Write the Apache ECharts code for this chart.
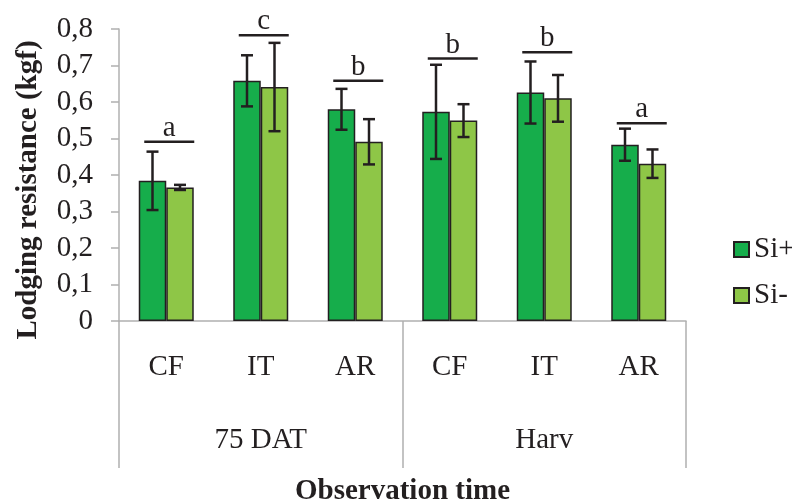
<!DOCTYPE html>
<html>
<head>
<meta charset="utf-8">
<script src="https://cdn.jsdelivr.net/npm/echarts@6/dist/echarts.min.js"></script>
<style>
  html, body { margin: 0; padding: 0; background: #fff; }
  #chart { width: 792px; height: 504px; }
</style>
</head>
<body>
<div id="chart"></div>
<script>
// Lodging resistance by treatment and observation time
const treatments = ['CF', 'IT', 'AR', 'CF', 'IT', 'AR'];
const periods = ['75 DAT', 'Harv'];
const siPlus = [0.384, 0.658, 0.580, 0.573, 0.626, 0.483];
const siMinus = [0.366, 0.641, 0.491, 0.549, 0.610, 0.431];
const siPlusErr = [0.080, 0.070, 0.056, 0.129, 0.085, 0.044];
const siMinusErr = [0.007, 0.121, 0.062, 0.045, 0.064, 0.039];
const letters = ['a', 'c', 'b', 'b', 'b', 'a'];
const letterLevels = [0.491, 0.783, 0.658, 0.719, 0.736, 0.542];
const yTicks = [0, 0.1, 0.2, 0.3, 0.4, 0.5, 0.6, 0.7, 0.8];

const FONT = 'Liberation Serif';
const FS = 29;
const INK = '#231F20';
const AXIS_GRAY = '#B0B0B0';
const BAR_FRAC = 0.291;

const chart = echarts.init(document.getElementById('chart'), null, { renderer: 'canvas' });

// error bar drawn for one series; side = -1 (left bar) or +1 (right bar)
function errorBar(side) {
  return function (params, api) {
    const i = api.value(0);
    const v = api.value(1);
    const e = api.value(2);
    const band = api.size([1, 0])[0];
    const bw = band * BAR_FRAC;
    const x = api.coord([i, 0])[0] + side * bw / 2;
    const yt = api.coord([i, v + e])[1];
    const yb = api.coord([i, v - e])[1];
    const cap = 6;
    const style = { stroke: INK, lineWidth: 2.5 };
    return {
      type: 'group',
      children: [
        { type: 'line', shape: { x1: x, y1: yt, x2: x, y2: yb }, style: style },
        { type: 'line', shape: { x1: x - cap, y1: yt, x2: x + cap, y2: yt }, style: style },
        { type: 'line', shape: { x1: x - cap, y1: yb, x2: x + cap, y2: yb }, style: style }
      ]
    };
  };
}

// significance letter over a line spanning both bars
function letterMark(params, api) {
  const i = api.value(0);
  const lvl = api.value(1);
  const p = api.coord([i, lvl]);
  const cx = p[0] + 3;
  const half = 25;
  return {
    type: 'group',
    children: [
      { type: 'line', shape: { x1: cx - half, y1: p[1], x2: cx + half, y2: p[1] },
        style: { stroke: INK, lineWidth: 2.5 } },
      { type: 'text', x: cx, y: p[1] + 1,
        style: { text: letters[params.dataIndex], font: FS + 'px ' + FONT, fill: INK,
                 align: 'center', verticalAlign: 'bottom' } }
    ]
  };
}

const option = {
  animation: false,
  backgroundColor: '#ffffff',
  textStyle: { fontFamily: FONT, color: INK },
  grid: { left: 119, right: 106, top: 29, bottom: 183, containLabel: false, outerBoundsMode: 'none' },
  legend: {
    data: ['Si+', 'Si-'],
    orient: 'vertical',
    left: 728,
    top: 230,
    icon: 'rect',
    itemWidth: 15,
    itemHeight: 15,
    itemGap: 17,
    textStyle: { fontFamily: FONT, fontSize: FS, color: INK }
  },
  xAxis: [
    {
      type: 'category',
      data: treatments,
      position: 'bottom',
      axisLine: { show: true, lineStyle: { color: AXIS_GRAY, width: 1.5 } },
      axisTick: { show: false },
      axisLabel: { margin: 32, fontFamily: FONT, fontSize: FS, color: INK, interval: 0 }
    },
    {
      type: 'category',
      data: periods,
      position: 'bottom',
      axisLine: { show: false },
      axisTick: { show: true, length: 147, inside: false, lineStyle: { color: AXIS_GRAY, width: 1.5 } },
      axisLabel: { margin: 105, fontFamily: FONT, fontSize: FS, color: INK },
      name: 'Observation time',
      nameLocation: 'middle',
      nameGap: 156,
      nameTextStyle: { fontFamily: FONT, fontSize: FS, fontWeight: 'bold', color: INK }
    }
  ],
  yAxis: {
    type: 'value',
    min: yTicks[0],
    max: yTicks[yTicks.length - 1],
    interval: 0.1,
    axisLine: { show: true, lineStyle: { color: AXIS_GRAY, width: 1.5 } },
    axisTick: { show: true, length: 8, lineStyle: { color: AXIS_GRAY, width: 1.5 } },
    splitLine: { show: false },
    axisLabel: {
      margin: 26,
      fontFamily: FONT, fontSize: FS, color: INK,
      formatter: function (v) { return Number(v.toFixed(1)).toString().replace('.', ','); }
    },
    name: 'Lodging resistance (kgf)',
    nameLocation: 'middle',
    nameGap: 76,
    nameTextStyle: { fontFamily: FONT, fontSize: FS, fontWeight: 'bold', color: INK, padding: [0, 30, 0, 0] }
  },
  series: [
    {
      name: 'Si+',
      type: 'bar',
      data: siPlus,
      barWidth: (BAR_FRAC * 100) + '%',
      barGap: '0%',
      itemStyle: { color: '#16AD4B', borderColor: INK, borderWidth: 1.5 }
    },
    {
      name: 'Si-',
      type: 'bar',
      data: siMinus,
      barWidth: (BAR_FRAC * 100) + '%',
      barGap: '0%',
      itemStyle: { color: '#8EC647', borderColor: INK, borderWidth: 1.5 }
    },
    {
      name: 'errPlus',
      type: 'custom',
      renderItem: errorBar(-1),
      data: siPlus.map(function (v, i) { return [i, v, siPlusErr[i]]; }),
      z: 5
    },
    {
      name: 'errMinus',
      type: 'custom',
      renderItem: errorBar(1),
      data: siMinus.map(function (v, i) { return [i, v, siMinusErr[i]]; }),
      z: 5
    },
    {
      name: 'letters',
      type: 'custom',
      renderItem: letterMark,
      data: letterLevels.map(function (v, i) { return [i, v]; }),
      z: 6
    }
  ]
};

chart.setOption(option);
</script>
</body>
</html>
